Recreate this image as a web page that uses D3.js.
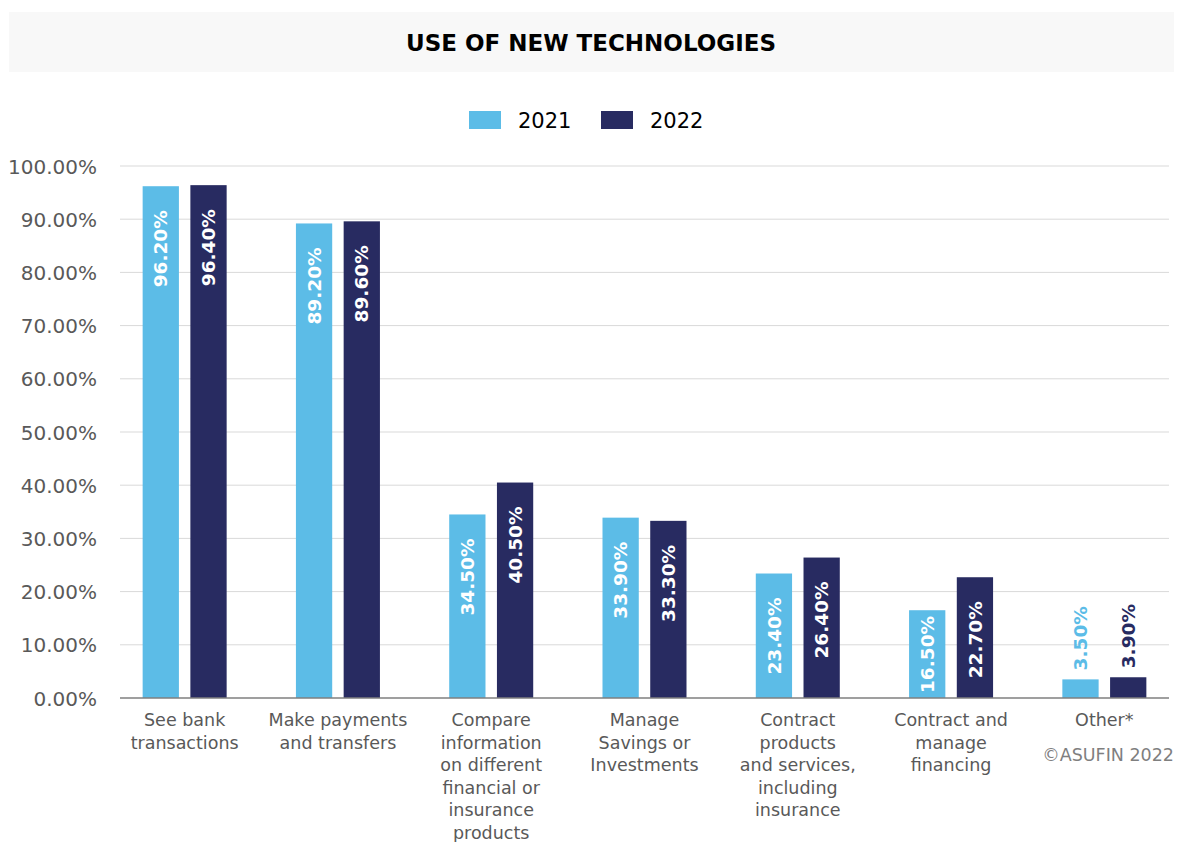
<!DOCTYPE html>
<html>
<head>
<meta charset="utf-8">
<script src="https://cdn.jsdelivr.net/npm/d3@7/dist/d3.min.js"></script>
<style>
  body { margin: 0; background: #fff; }
  svg text { font-family: "DejaVu Sans", sans-serif; }
</style>
</head>
<body>
<svg id="chart" width="1182" height="842"></svg>
<script>
// Data
const categories = [
  ["See bank", "transactions"],
  ["Make payments", "and transfers"],
  ["Compare", "information", "on different", "financial or", "insurance", "products"],
  ["Manage", "Savings or", "Investments"],
  ["Contract", "products", "and services,", "including", "insurance"],
  ["Contract and", "manage", "financing"],
  ["Other*"]
];
const seriesNames = ["2021", "2022"];
const values2021 = [96.2, 89.2, 34.5, 33.9, 23.4, 16.5, 3.5];
const values2022 = [96.4, 89.6, 40.5, 33.3, 26.4, 22.7, 3.9];
const yTicks = [0, 10, 20, 30, 40, 50, 60, 70, 80, 90, 100];

const colors = ["#5cbce7", "#282b61"];
const plotLeft = 120, plotRight = 1169, plotTop = 166, plotBottom = 698;

const svg = d3.select("#chart");

// Title banner
svg.append("rect")
  .attr("x", 9).attr("y", 12).attr("width", 1165).attr("height", 60)
  .attr("fill", "#f8f8f8");
svg.append("text")
  .attr("x", 591).attr("y", 51)
  .attr("text-anchor", "middle")
  .attr("font-size", 23).attr("font-weight", "bold").attr("fill", "#000")
  .text("USE OF NEW TECHNOLOGIES");

// Scales
const x0 = d3.scaleBand()
  .domain(d3.range(categories.length))
  .range([108, 1181])
  .paddingInner(0).paddingOuter(0);
const x1 = d3.scaleBand()
  .domain(seriesNames)
  .range([x0.bandwidth() / 2 - 42, x0.bandwidth() / 2 + 42])
  .paddingInner(0.24).paddingOuter(0);
const y = d3.scaleLinear().domain([0, 100]).range([plotBottom, plotTop]);

// Grid
svg.append("g").selectAll("line")
  .data(yTicks.filter(t => t > 0))
  .enter().append("line")
  .attr("x1", plotLeft).attr("x2", plotRight)
  .attr("y1", d => y(d)).attr("y2", d => y(d))
  .attr("stroke", "#d9d9d9").attr("stroke-width", 1);

// Y axis
const yAxis = svg.append("g")
  .attr("transform", "translate(" + (plotLeft - 20) + ",0)")
  .call(d3.axisLeft(y).tickValues(yTicks).tickSize(0).tickFormat(d => d.toFixed(2) + "%"));
yAxis.select(".domain").remove();
yAxis.selectAll("text")
  .attr("font-family", "DejaVu Sans, sans-serif")
  .attr("font-size", 20).attr("fill", "#595959").attr("dy", "0.35em");

// Bars
const series = [values2021, values2022];
const groups = svg.append("g").selectAll("g")
  .data(categories)
  .enter().append("g")
  .attr("transform", (d, i) => "translate(" + x0(i) + ",0)");

groups.each(function(cat, i) {
  const g = d3.select(this);
  seriesNames.forEach((name, s) => {
    const v = series[s][i];
    const bx = x1(name), bw = x1.bandwidth();
    g.append("rect")
      .attr("x", bx).attr("y", y(v))
      .attr("width", bw).attr("height", y(0) - y(v))
      .attr("fill", colors[s]);
    const label = g.append("text")
      .attr("dy", "0.36em")
      .attr("font-size", 18.5).attr("font-weight", "bold")
      .text(v.toFixed(2) + "%");
    const len = label.node().getComputedTextLength();
    // inside the bar when it fits, pushed down toward the base if tight
    const inside = (y(0) - y(v)) > len + 10;
    let ty;
    if (inside) ty = Math.min(y(v) + 24, y(0) - 5 - len);
    else ty = y(v) - 9;
    label
      .attr("transform", "translate(" + (bx + bw / 2) + "," + ty + ") rotate(-90)")
      .attr("text-anchor", inside ? "end" : "start")
      .attr("fill", inside ? "#fff" : colors[s]);
  });
});

// Baseline
svg.append("line")
  .attr("x1", plotLeft).attr("x2", plotRight)
  .attr("y1", y(0)).attr("y2", y(0))
  .attr("stroke", "#7f7f7f").attr("stroke-width", 1.5);

// X labels
groups.each(function(cat) {
  const t = d3.select(this).append("text")
    .attr("text-anchor", "middle")
    .attr("font-size", 17.5).attr("fill", "#595959");
  cat.forEach((line, k) => {
    t.append("tspan")
      .attr("x", x0.bandwidth() / 2)
      .attr("y", 726 + k * 22.5)
      .text(line);
  });
});

// Legend
const legend = svg.append("g");
const legendX = [469, 601];
seriesNames.forEach((name, s) => {
  legend.append("rect")
    .attr("x", legendX[s]).attr("y", 111).attr("width", 32).attr("height", 18)
    .attr("fill", colors[s]);
  legend.append("text")
    .attr("x", legendX[s] + 49).attr("y", 121).attr("dy", "0.35em")
    .attr("font-size", 21).attr("fill", "#000")
    .text(name);
});

// Source
svg.append("text")
  .attr("x", 1174).attr("y", 761)
  .attr("text-anchor", "end")
  .attr("font-size", 17.5).attr("fill", "#7f7f7f")
  .text("©ASUFIN 2022");
</script>
</body>
</html>
